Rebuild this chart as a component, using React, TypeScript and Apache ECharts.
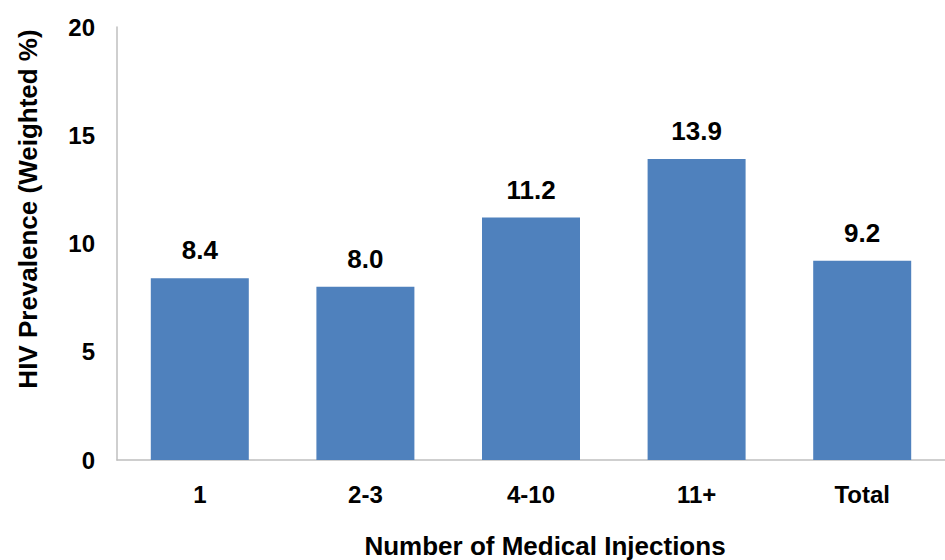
import React, { useEffect, useRef } from "react";
import * as echarts from "echarts";

const categories = ["1", "2-3", "4-10", "11+", "Total"];
const values = [8.4, 8.0, 11.2, 13.9, 9.2];
const yTitle = "HIV Prevalence (Weighted %)";
const xTitle = "Number of Medical Injections";

export default function App() {
  const ref = useRef<HTMLDivElement>(null);
  useEffect(() => {
    const chart = echarts.init(ref.current!, null, { renderer: "svg" });
    const font = "'Liberation Sans', Arial, sans-serif";
    chart.setOption({
      animation: false,
      backgroundColor: "#ffffff",
      grid: { left: 117, top: 27, width: 840, height: 433 },
      xAxis: {
        type: "category",
        data: categories,
        axisLine: { lineStyle: { color: "#BFBFBF", width: 1.5 } },
        axisTick: { show: false },
        axisLabel: { color: "#000", fontSize: 24, fontWeight: "bold", fontFamily: font, margin: 22 },
      },
      yAxis: {
        type: "value",
        min: 0,
        max: 20,
        interval: 5,
        axisLine: { show: true, lineStyle: { color: "#BFBFBF", width: 1.5 } },
        axisTick: { show: false },
        splitLine: { show: false },
        axisLabel: { color: "#000", fontSize: 24, fontWeight: "bold", fontFamily: font, margin: 22 },
      },
      graphic: [
        {
          type: "text",
          x: 28,
          y: 209,
          rotation: Math.PI / 2,
          style: {
            text: yTitle,
            fill: "#000",
            font: `bold 26px ${font}`,
            align: "center",
            verticalAlign: "middle",
          },
        },
        {
          type: "text",
          x: 545,
          y: 546,
          style: {
            text: xTitle,
            fill: "#000",
            font: `bold 26px ${font}`,
            align: "center",
            verticalAlign: "middle",
          },
        },
      ],
      series: [
        {
          type: "bar",
          data: values,
          barWidth: 98,
          itemStyle: { color: "#4F81BD" },
          label: {
            show: true,
            position: "top",
            distance: 15,
            formatter: (p: any) => p.value.toFixed(1),
            color: "#000",
            fontSize: 26,
            fontWeight: "bold",
            fontFamily: font,
          },
        },
      ],
    });
    return () => chart.dispose();
  }, []);
  return <div ref={ref} style={{ width: 945, height: 560, position: "absolute", left: 0, top: 0 }} />;
}
